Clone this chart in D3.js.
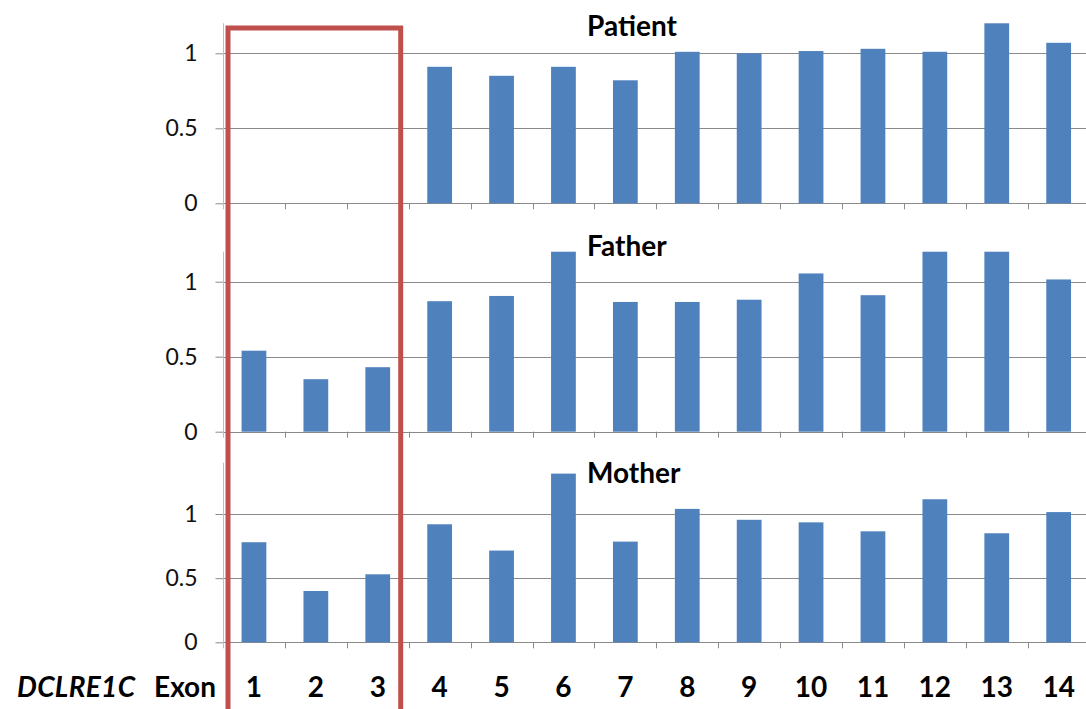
<!DOCTYPE html>
<html>
<head>
<meta charset="utf-8">
<script src="https://cdn.jsdelivr.net/npm/d3@7"></script>
<style>
  html, body { margin: 0; padding: 0; background: #fff; }
  svg { display: block; font-family: Lato, "Open Sans", sans-serif; }
</style>
</head>
<body>
<svg id="chart" width="1086" height="709"></svg>
<script>
// exon categories
const exons = ["1", "2", "3", "4", "5", "6", "7", "8", "9", "10", "11", "12", "13", "14"];

// relative copy number per exon (bars above the axis max are cut off)
const patient = [0, 0, 0, 0.91, 0.85, 0.91, 0.82, 1.01, 1.0, 1.015, 1.03, 1.01, 1.2, 1.07];
const father = [0.54, 0.35, 0.43, 0.87, 0.905, 1.2, 0.865, 0.865, 0.88, 1.055, 0.91, 1.2, 1.2, 1.015];
const mother = [0.78, 0.4, 0.53, 0.92, 0.715, 1.315, 0.785, 1.04, 0.955, 0.935, 0.865, 1.115, 0.85, 1.015];

const yTicks = [0, 0.5, 1];
const panelNames = ["Patient", "Father", "Mother"];
const panelMax = [1.2, 1.2, 1.4];

let svg = d3.select("#chart"),
    width = +svg.attr("width");

let axisLeftX = 223;
let x = d3.scaleBand()
    .domain(exons)
    .range([axisLeftX, axisLeftX + 14 * 61.9])
    .padding(0);
let bw = x.bandwidth();

// vertical placement of each panel: [top of axis, zero line]
let layout = [[23.3, 203.3], [251.7, 431.7], [462.7, 642.3]];
let titleBase = [36, 256, 483];

let panels = [patient, father, mother].map((vals, i) => ({
    name: panelNames[i],
    max: panelMax[i],
    values: exons.map((e, j) => ({exon: e, value: vals[j]})),
    top: layout[i][0],
    zero: layout[i][1],
    titleY: titleBase[i]
}));

panels.forEach(p => {
    let y = d3.scaleLinear().domain([0, p.max]).range([p.zero, p.top]);
    let g = svg.append("g");

    // gridlines
    g.selectAll("line.grid")
        .data(yTicks)
        .join("line")
        .attr("class", "grid")
        .attr("x1", axisLeftX)
        .attr("x2", width)
        .attr("y1", d => Math.round(y(d)) + 0.5)
        .attr("y2", d => Math.round(y(d)) + 0.5)
        .attr("stroke", "#8a8a8a")
        .attr("stroke-width", 1);

    // category ticks under the zero line
    let bounds = exons.slice(1).map(e => x(e)).concat([x.range()[1]]);
    g.selectAll("line.xtick")
        .data(bounds)
        .join("line")
        .attr("class", "xtick")
        .attr("x1", d => Math.round(d) + 0.5)
        .attr("x2", d => Math.round(d) + 0.5)
        .attr("y1", y(0))
        .attr("y2", y(0) + 6)
        .attr("stroke", "#8a8a8a");

    // y axis
    let axis = g.append("g")
        .attr("transform", `translate(${axisLeftX + 0.5},0)`)
        .call(d3.axisLeft(y).tickValues(yTicks).tickSize(8).tickPadding(18).tickFormat(d3.format("")));
    axis.select(".domain").remove();
    axis.selectAll(".tick line").attr("stroke", "#8a8a8a");
    axis.selectAll(".tick text")
        .attr("fill", "#111")
        .attr("font-size", 23)
        .attr("font-family", "Lato, 'Open Sans', sans-serif");
    g.append("line")
        .attr("x1", axisLeftX + 0.5).attr("x2", axisLeftX + 0.5)
        .attr("y1", y(p.max)).attr("y2", y(0) + 6)
        .attr("stroke", "#bdbdbd");

    // bars
    g.selectAll("rect.bar")
        .data(p.values)
        .join("rect")
        .attr("class", "bar")
        .attr("x", d => x(d.exon) + bw * 0.3)
        .attr("width", bw * 0.4)
        .attr("y", d => y(Math.min(d.value, p.max)))
        .attr("height", d => y(0) - y(Math.min(d.value, p.max)))
        .attr("fill", "#4f81bd");

    g.append("text")
        .attr("x", 587)
        .attr("y", p.titleY)
        .attr("font-size", 28)
        .attr("font-weight", "bold")
        .attr("fill", "#000")
        .text(p.name);
});

// x labels
svg.selectAll("text.exon")
    .data(exons)
    .join("text")
    .attr("class", "exon")
    .attr("x", d => x(d) + bw / 2)
    .attr("y", 697)
    .attr("text-anchor", "middle")
    .attr("font-size", 28)
    .attr("font-weight", "bold")
    .attr("fill", "#000")
    .text(d => d);

svg.append("text")
    .attr("x", 17)
    .attr("y", 697)
    .attr("font-size", 28)
    .attr("font-weight", "bold")
    .attr("font-style", "italic")
    .attr("textLength", 118)
    .attr("fill", "#000")
    .text("DCLRE1C");
svg.append("text")
    .attr("x", 216)
    .attr("y", 697)
    .attr("text-anchor", "end")
    .attr("font-size", 28)
    .attr("font-weight", "bold")
    .attr("fill", "#000")
    .text("Exon");

// red box around exons 1-3
let boxL = x("1") + 5, boxR = x("3") + bw - 8;
svg.append("rect")
    .attr("x", boxL)
    .attr("y", 28)
    .attr("width", boxR - boxL)
    .attr("height", 700)
    .attr("fill", "none")
    .attr("stroke", "#c0504d")
    .attr("stroke-width", 5);
</script>
</body>
</html>
